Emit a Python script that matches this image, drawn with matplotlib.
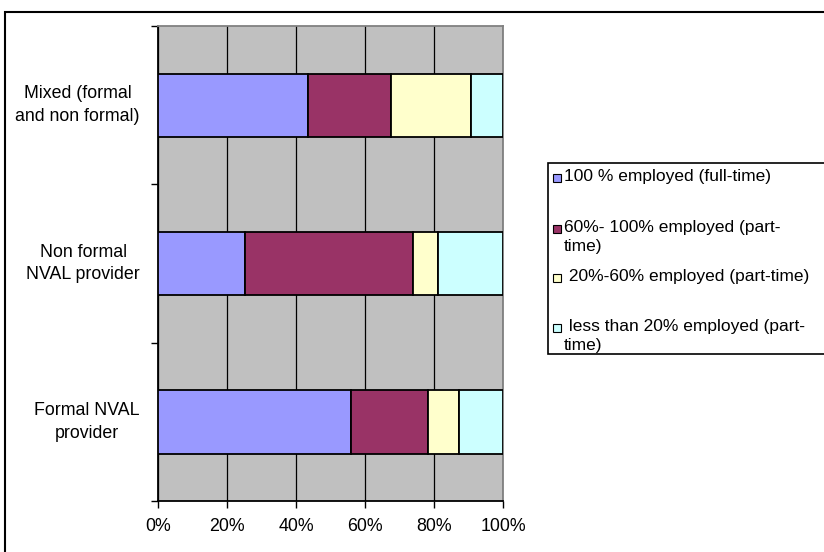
import matplotlib.pyplot as plt
from matplotlib.patches import Rectangle

plt.rcParams['font.family'] = ['Liberation Sans', 'DejaVu Sans']

categories = ["Formal NVAL\nprovider", "Non formal\nNVAL provider", "Mixed (formal\nand non formal)"]
series_names = ["100 % employed (full-time)",
                "60%- 100% employed (part-\ntime)",
                " 20%-60% employed (part-time)",
                " less than 20% employed (part-\ntime)"]
full_time = [55.8, 25.2, 43.5]
part_60_100 = [22.4, 48.7, 24.0]
part_20_60 = [9.0, 7.3, 23.2]
part_lt_20 = [12.8, 18.8, 9.3]
colors = ["#9999FF", "#993366", "#FFFFCC", "#CCFFFF"]
x_ticks = [0, 20, 40, 60, 80, 100]
x_labels = ["0%", "20%", "40%", "60%", "80%", "100%"]

W, H = 824, 552
fig = plt.figure(figsize=(W / 100, H / 100), dpi=100)
ax = fig.add_axes([158 / W, 1 - 501 / H, (503 - 158) / W, (501 - 26) / H])
ax.set_facecolor("#C0C0C0")

ypos = list(range(len(categories)))
left = [0, 0, 0]
for vals, col in zip([full_time, part_60_100, part_20_60, part_lt_20], colors):
    ax.barh(ypos, vals, left=left, height=0.4, color=col, edgecolor="black", linewidth=1.3, zorder=3)
    left = [a + b for a, b in zip(left, vals)]

ax.set_xlim(0, 100)
ax.set_ylim(-0.5, len(categories) - 0.5)
ax.set_xticks(x_ticks)
ax.set_xticklabels(x_labels, fontsize=12.8)
ax.tick_params(axis='x', length=5, width=1, pad=7, direction='out')
ax.set_yticks(ypos)
ax.set_yticklabels(categories, fontsize=12.8, ha='right', va='center', multialignment='center',
                   linespacing=1.45)
ax.tick_params(axis='y', which='major', length=0, pad=13)
ax.set_yticks([-0.5, 0.5, 1.5, 2.5], minor=True)
ax.tick_params(axis='y', which='minor', length=5, width=1, direction='out')

ax.grid(True, axis='x', color='black', linewidth=0.9, zorder=1)
ax.set_axisbelow(True)
ax.spines['left'].set_color('black')
ax.spines['bottom'].set_color('black')
ax.spines['top'].set_color('#808080')
ax.spines['right'].set_color('#808080')
for s in ax.spines.values():
    s.set_linewidth(1.3)

# outer chart frame (cut at right and bottom edge)
fig.patches.append(Rectangle((5 / W, -0.1), 1.2, 1.1 - 12 / H, transform=fig.transFigure,
                             fill=False, edgecolor='black', linewidth=1.5))

# legend box
fig.patches.append(Rectangle((548 / W, 1 - 354 / H), 0.5, (354 - 163) / H, transform=fig.transFigure,
                             facecolor='white', edgecolor='black', linewidth=1.2))
entry_y = [178, 229, 278, 328]
for name, col, yc in zip(series_names, colors, entry_y):
    fig.patches.append(Rectangle((553 / W, 1 - (yc + 4) / H), 8 / W, 8 / H, transform=fig.transFigure,
                                 facecolor=col, edgecolor='black', linewidth=0.8))
    fig.text(564 / W, 1 - (yc - 9) / H, name, fontsize=12.5, ha='left', va='top', linespacing=1.3)

fig.savefig("out.png", dpi=100)
